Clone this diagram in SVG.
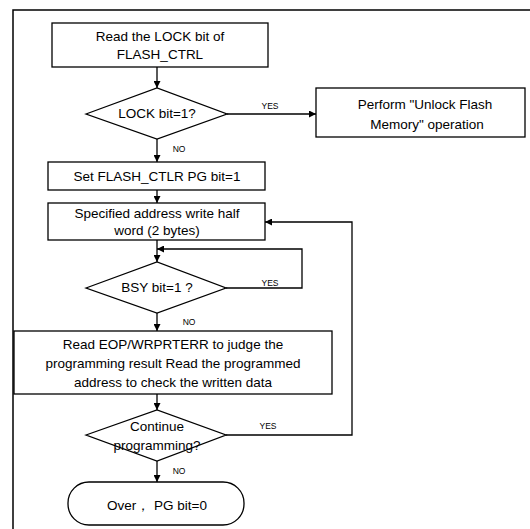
<svg xmlns="http://www.w3.org/2000/svg" width="530" height="529" viewBox="0 0 530 529">
<defs>
<marker id="ah" viewBox="0 0 10 10" refX="10" refY="5" markerWidth="7" markerHeight="7" markerUnits="userSpaceOnUse" orient="auto"><path d="M0,0 L10,5 L0,10 z" fill="#000"/></marker>
<style>
.s{fill:#fff;stroke:#000;stroke-width:1.3}
.t{font-family:"Liberation Sans",Arial,sans-serif;font-size:13.5px;fill:#000;text-anchor:middle}
.l{font-family:"Liberation Sans",Arial,sans-serif;font-size:8.5px;fill:#000;text-anchor:middle}
.c{fill:none;stroke:#000;stroke-width:1.3}
</style>
</defs>
<rect width="530" height="529" fill="#fff"/>
<path d="M13,529 V10 H530" fill="none" stroke="#000" stroke-width="1.5"/>
<g id="connectors">
<path class="c" d="M157,67 V88" marker-end="url(#ah)"/>
<path class="c" d="M227,114 H316" marker-end="url(#ah)"/>
<path class="c" d="M157,139 V162" marker-end="url(#ah)"/>
<path class="c" d="M157,190 V203" marker-end="url(#ah)"/>
<path class="c" d="M157,240 V262" marker-end="url(#ah)"/>
<path class="c" d="M226,288 H302 V249 H157" marker-end="url(#ah)"/>
<path class="c" d="M157,313 V331" marker-end="url(#ah)"/>
<path class="c" d="M157,394 V410" marker-end="url(#ah)"/>
<path class="c" d="M226,435 H352 V222 H265" marker-end="url(#ah)"/>
<path class="c" d="M157,461 V482" marker-end="url(#ah)"/>
<text class="l" x="270" y="109">YES</text>
<text class="l" x="179" y="152">NO</text>
<text class="l" x="270" y="286">YES</text>
<text class="l" x="189" y="325">NO</text>
<text class="l" x="268" y="429">YES</text>
<text class="l" x="179" y="474">NO</text>
</g>
<g id="n1"><rect class="s" x="52" y="23" width="216" height="44"/><text class="t" x="160" y="41">Read the LOCK bit of</text><text class="t" x="160" y="59">FLASH_CTRL</text></g>
<g id="n2"><polygon class="s" points="86,114 157,88 227,114 157,139"/><text class="t" x="157" y="118">LOCK bit=1?</text></g>
<g id="n3"><rect class="s" x="316" y="88" width="209" height="49"/><text class="t" x="425" y="109">Perform  "Unlock Flash</text><text class="t" x="427" y="129">Memory" operation</text></g>
<g id="n4"><rect class="s" x="48" y="162" width="217" height="28"/><text class="t" x="157" y="181">Set FLASH_CTLR PG bit=1</text></g>
<g id="n5"><rect class="s" x="48" y="203" width="217" height="37"/><text class="t" x="157" y="218">Specified address write half</text><text class="t" x="157" y="235">word (2 bytes)</text></g>
<g id="n6"><polygon class="s" points="86,288 157,262 226,288 157,313"/><text class="t" x="157" y="292">BSY bit=1 ?</text></g>
<g id="n7"><rect class="s" x="14" y="331" width="318" height="63"/><text class="t" x="173" y="349">Read EOP/WRPRTERR to judge the</text><text class="t" x="173" y="368">programming result Read the programmed</text><text class="t" x="173" y="387">address to check the written data</text></g>
<g id="n8"><polygon class="s" points="86,435 157,410 226,435 157,461"/><text class="t" x="157" y="431">Continue</text><text class="t" x="157" y="450">programming?</text></g>
<g id="n9"><rect class="s" x="68" y="482" width="176" height="43" rx="21" ry="21"/><text class="t" x="157" y="510">Over， PG bit=0</text></g>
</svg>
